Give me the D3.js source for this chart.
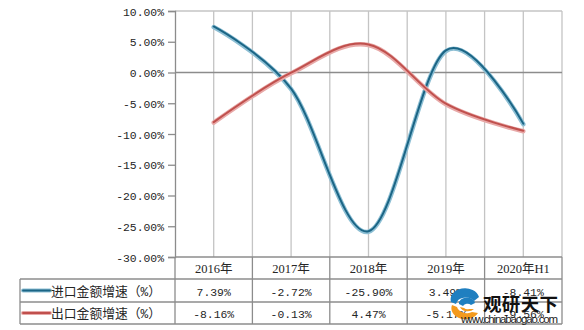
<!DOCTYPE html>
<html><head><meta charset="utf-8">
<script src="https://cdn.jsdelivr.net/npm/d3@7"></script>
<style>body{margin:0;background:#fff}svg{display:block}</style>
</head><body>
<svg id="c" width="584" height="330"></svg>
<script>
const categories = ["2016年","2017年","2018年","2019年","2020年H1"];
const importGrowth = [7.39, -2.72, -25.90, 3.49, -8.41];
const exportGrowth = [-8.16, -0.13, 4.47, -5.17, -9.56];
const seriesNames = ["进口金额增速（%）","出口金额增速（%）"];
const yTicks = [10, 5, 0, -5, -10, -15, -20, -25, -30];

const svg = d3.select("#c");
const L = 175, R = 562, T = 11, B = 257;
const x = d3.scaleBand().domain(categories).range([L, R]).padding(0);
const y = d3.scaleLinear().domain([-30, 10]).range([B, T]);
const cx = d => x(d) + x.bandwidth()/2;
const numFont = "'Liberation Mono','Noto Sans CJK SC',monospace";
const txt = "#262626";

// vertical gridlines (band boundaries and centers)
const gx = [];
categories.forEach(c => { gx.push(x(c)); gx.push(cx(c)); });
gx.push(R);
svg.append("g").selectAll("line").data(gx.slice(1)).join("line")
  .attr("x1", d => d).attr("x2", d => d).attr("y1", T).attr("y2", B)
  .attr("stroke", "#c4c4c4").attr("stroke-width", 1.3);
// top border
svg.append("line").attr("x1", L).attr("x2", R).attr("y1", T).attr("y2", T)
  .attr("stroke", "#c4c4c4").attr("stroke-width", 1.3);

// y axis
const yAxis = d3.axisLeft(y).tickValues(yTicks).tickSize(7).tickPadding(4)
  .tickFormat(d => d.toFixed(2) + "%");
const ga = svg.append("g").attr("transform", `translate(${L},0)`).call(yAxis);
ga.select(".domain").attr("stroke", "#8c8c8c").attr("stroke-width", 1.3);
ga.selectAll(".tick line").attr("stroke", "#8c8c8c").attr("stroke-width", 1.3);
ga.selectAll(".tick text").attr("font-family", numFont).attr("font-size", 11.4)
  .attr("fill", txt).attr("dy", "0.36em");

// zero line
svg.append("line").attr("x1", L).attr("x2", R).attr("y1", y(0)).attr("y2", y(0))
  .attr("stroke", "#8c8c8c").attr("stroke-width", 1.3);

// series lines
const line = d3.line().x((d, i) => cx(categories[i])).y(d => y(d)).curve(d3.curveCardinal.tension(0));
const series = [
  {vals: importGrowth, core: "#1b6585", halo: "#8dbfd4"},
  {vals: exportGrowth, core: "#c0504d", halo: "#e8a9a8"}
];
series.forEach(s => {
  svg.append("path").attr("d", line(s.vals)).attr("fill", "none")
    .attr("stroke", s.halo).attr("stroke-width", 4.5).attr("stroke-linecap", "round");
  svg.append("path").attr("d", line(s.vals)).attr("fill", "none")
    .attr("stroke", s.core).attr("stroke-width", 2).attr("stroke-linecap", "round")
    .attr("transform", "translate(0,-0.6)");
});

// data table
const tbl = svg.append("g");
const gridC = "#8c8c8c";
tbl.append("line").attr("x1", L).attr("x2", R).attr("y1", B).attr("y2", B).attr("stroke", gridC).attr("stroke-width", 1.3);
[279, 302, 324].forEach(v => tbl.append("line").attr("x1", 20).attr("x2", R).attr("y1", v).attr("y2", v)
  .attr("stroke", gridC).attr("stroke-width", 1.3));
tbl.append("line").attr("x1", 20).attr("x2", 20).attr("y1", 279).attr("y2", 324).attr("stroke", gridC).attr("stroke-width", 1.3);
categories.forEach(c => tbl.append("line").attr("x1", x(c)).attr("x2", x(c)).attr("y1", B).attr("y2", 324)
  .attr("stroke", gridC).attr("stroke-width", 1.3));
tbl.append("line").attr("x1", R).attr("x2", R).attr("y1", B).attr("y2", 324).attr("stroke", gridC).attr("stroke-width", 1.3);

tbl.selectAll("text.cat").data(categories).join("text")
  .attr("x", d => cx(d)).attr("y", 273).attr("text-anchor", "middle")
  .attr("font-family", "'Liberation Serif','Noto Sans CJK SC',serif").attr("font-size", 12.5)
  .attr("fill", txt).text(d => d);

const rowsBase = [296, 318];
const rowsMid = [290.5, 313];
[importGrowth, exportGrowth].forEach((vals, r) => {
  tbl.append("g").selectAll("text").data(vals).join("text")
    .attr("x", (d, i) => cx(categories[i])).attr("y", rowsBase[r]).attr("text-anchor", "middle")
    .attr("font-family", numFont).attr("font-size", 11.4).attr("fill", txt)
    .text(d => d.toFixed(2) + "%");
  tbl.append("line").attr("x1", 23).attr("x2", 50).attr("y1", rowsMid[r]).attr("y2", rowsMid[r])
    .attr("stroke", series[r].halo).attr("stroke-width", 4).attr("stroke-linecap", "round");
  tbl.append("line").attr("x1", 23).attr("x2", 50).attr("y1", rowsMid[r]).attr("y2", rowsMid[r])
    .attr("stroke", series[r].core).attr("stroke-width", 1.8).attr("stroke-linecap", "round");
  tbl.append("text").attr("x", 51).attr("y", rowsBase[r] - 0.5)
    .attr("font-family", "'Liberation Mono','Noto Sans CJK SC',monospace").attr("font-size", 12.8)
    .attr("fill", txt).text(seriesNames[r]);
});

// watermark
const wm = svg.append("g");
wm.append("path").attr("d", "M451,302 A14,11 0 0 1 479,297 L474,301 A10,8 0 0 0 456,304 Z").attr("fill", "#1f7fc0");
wm.append("path").attr("d", "M452,305 A14,11 0 0 0 478,313 L472,312 A10,8 0 0 1 457,307 Z").attr("fill", "#f39a1e");
wm.append("path").attr("d", "M459,304 A8,6 0 0 1 475,303 L471,305 A5,4 0 0 0 463,306 Z").attr("fill", "#1f7fc0");
wm.append("path").attr("d", "M460,307 A8,6 0 0 0 474,309 L469,309 A5,4 0 0 1 464,308 Z").attr("fill", "#f39a1e");
wm.append("text").attr("x", 483).attr("y", 311).attr("font-family", "'Noto Sans CJK SC',sans-serif")
  .attr("font-weight", "bold").attr("font-size", 18.5).attr("fill", "#111")
  .attr("textLength", 75).text("观研天下");
wm.append("text").attr("x", 461).attr("y", 322.5).attr("font-family", "'Liberation Sans',Arial,sans-serif")
  .attr("font-size", 11.5).attr("fill", "#222").attr("textLength", 97).text("www.chinabaogao.com");
</script>
</body></html>
